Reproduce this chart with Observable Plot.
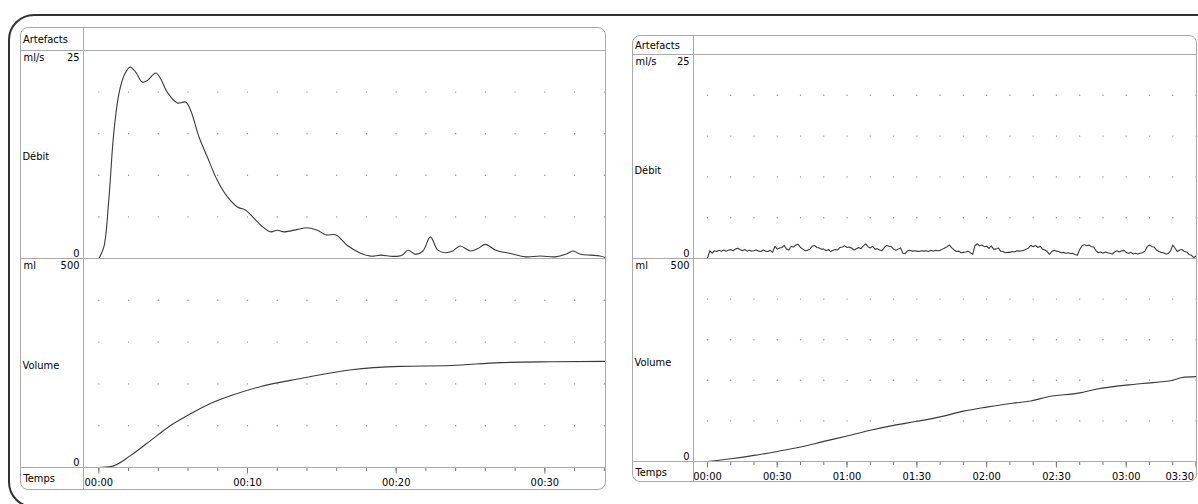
<!DOCTYPE html>
<html><head><meta charset="utf-8">
<script src="https://cdn.jsdelivr.net/npm/d3@7"></script>
<script src="https://cdn.jsdelivr.net/npm/@observablehq/plot@0.6"></script>
<style>
body{margin:0;background:#fff;width:1198px;height:504px;overflow:hidden;position:relative;font-family:"Liberation Sans Narrow","DejaVu Sans Condensed",sans-serif;}
.outer{position:absolute;left:8px;top:14px;width:1230px;height:494px;border:2px solid #333;border-radius:26px;box-sizing:border-box}
.panel{position:absolute}
.bord{position:absolute;left:0;top:0;right:0;bottom:0;border:1px solid #aaa;border-radius:8px;box-sizing:border-box;pointer-events:none}
.hl{position:absolute;left:0;right:0;height:1px;background:#aaa}
.vl{position:absolute;top:0;bottom:0;width:1px;background:#aaa}
.lbl{position:absolute;font-size:11px;line-height:12px;color:#000}
.panel svg{position:absolute;left:0;overflow:visible}
</style></head><body>
<div class="outer"></div>
<div id="left" class="panel"></div>
<div id="right" class="panel"></div>
<script>
const FONT = '"Liberation Sans Narrow","DejaVu Sans Condensed",sans-serif';
// ---------- data ----------
const rowLabels = ["Artefacts", "Débit", "Volume", "Temps"];
const unitDebit = "ml/s", unitVolume = "ml";
const debitRange = [0, 25], volumeRange = [0, 500];
const gridYDebit = [5, 10, 15, 20];
const gridYVolume = [100, 200, 300, 400];

// left recording (seconds)
const leftMajorTicks = [0, 10, 20, 30];
const leftMajorLabels = ["00:00", "00:10", "00:20", "00:30"];
const leftMinorTicks = [0, 2, 4, 6, 8, 10, 12, 14, 16, 18, 20, 22, 24, 26, 28, 30, 32, 34];
const leftDebitT = [0, 0.34, 0.67, 1.0, 1.35, 1.7, 2.1, 2.48, 2.93, 3.27, 3.83, 4.16, 4.6, 5.28, 5.84, 6.18, 6.74, 7.3, 7.97, 8.65, 9.32, 9.88, 10.9, 11.56, 12.0, 12.46, 13.36, 14.03, 14.7, 15.26, 15.93, 16.7, 17.6, 18.3, 18.96, 19.8, 20.4, 20.8, 21.3, 21.8, 22.3, 22.8, 23.3, 23.8, 24.3, 25.0, 25.5, 26.0, 26.7, 27.7, 28.7, 29.7, 30.7, 31.4, 31.9, 32.4, 33.1, 33.7, 34.1];
const leftDebitV = [0, 1.4, 7, 15, 19.8, 22, 23, 22.4, 21.2, 21.4, 22.3, 21.6, 20.0, 18.7, 18.8, 17.8, 14.6, 12.2, 9.4, 7.4, 6.2, 5.8, 4.0, 3.2, 3.4, 3.2, 3.5, 3.7, 3.4, 2.85, 2.85, 1.6, 0.64, 0.28, 0.4, 0.25, 0.4, 1.0, 0.5, 0.9, 2.6, 1.0, 0.7, 0.9, 1.5, 0.9, 1.2, 1.7, 1.0, 0.6, 0.2, 0.3, 0.2, 0.5, 0.9, 0.5, 0.4, 0.3, 0.1];
const leftVolT = [0, 0.8, 2.15, 3.5, 4.8, 6.2, 7.5, 8.9, 10.9, 13.6, 17.0, 20.3, 23.7, 27.0, 30.5, 34.1];
const leftVolV = [0, 2, 29, 65, 100, 129, 153, 172, 194, 213, 234, 242, 244, 251, 253, 254];

// right recording (seconds)
const rightMajorTicks = [0, 30, 60, 90, 120, 150, 180, 210];
const rightMajorLabels = ["00:00", "00:30", "01:00", "01:30", "02:00", "02:30", "03:00", "03:30"];
const rightMinorTicks = [0,10,20,30,40,50,60,70,80,90,100,110,120,130,140,150,160,170,180,190,200,210];
const rightDebitV = [
0, 0.95, 0.65, 0.95, 0.85, 1.0, 0.9, 1.05, 0.9, 1.0,
1.1, 0.95, 1.15, 1.25, 1.1, 0.95, 1.1, 0.9, 1.0, 0.9,
0.95, 1.05, 0.9, 0.85, 1.05, 0.9, 0.85, 1.0, 0.75, 1.5,
1.15, 1.3, 1.35, 1.6, 1.15, 1.05, 1.5, 1.4, 1.65, 1.75,
1.35, 1.15, 0.95, 1.0, 1.15, 1.5, 1.6, 1.35, 1.3, 1.15,
1.15, 0.95, 1.1, 0.85, 1.0, 1.1, 1.05, 1.35, 1.4, 1.55,
1.35, 1.4, 1.25, 1.05, 1.2, 1.35, 1.2, 1.55, 1.8, 1.45,
1.3, 1.5, 1.15, 1.2, 1.05, 0.95, 1.35, 1.6, 1.5, 1.45,
1.15, 1.0, 1.15, 1.3, 0.65, 0.6, 0.95, 1.0, 0.9, 0.95,
0.9, 0.85, 0.95, 0.9, 0.95, 0.85, 1.0, 0.9, 1.0, 0.95,
1.0, 1.15, 1.3, 1.45, 1.65, 1.3, 1.05, 0.85, 0.9, 0.7,
0.75, 0.8, 0.9, 0.7, 0.5, 1.6, 1.8, 1.55, 1.65, 1.45,
1.5, 1.25, 1.55, 1.15, 1.15, 1.3, 0.9, 0.85, 0.7, 0.75,
0.75, 0.85, 0.8, 0.95, 0.9, 0.95, 1.0, 1.15, 1.3, 1.6,
1.45, 1.6, 1.35, 1.5, 1.15, 1.05, 0.85, 0.5, 0.85, 1.0,
0.9, 0.85, 0.7, 0.75, 0.65, 0.7, 0.6, 0.65, 0.5, 0.4,
1.1, 1.55, 1.7, 1.55, 1.65, 1.45, 1.4, 0.95, 0.7, 0.8,
0.65, 0.8, 0.7, 0.65, 0.55, 0.8, 0.95, 0.8, 0.95, 1.0,
0.75, 0.65, 0.75, 0.55, 0.65, 0.55, 0.65, 0.7, 0.9, 1.45,
1.65, 1.45, 1.4, 1.05, 0.85, 0.75, 0.7, 0.55, 0.6, 0.9,
1.65, 1.25, 0.85, 1.05, 1.1, 0.85, 0.8, 0.5, 0.4, 0.1, 0.3];
const rightDebitT = rightDebitV.map((_, i) => i); // one sample per second
const rightVolT = [0, 10, 20, 30, 40, 50, 60, 70, 80, 90, 100, 110, 120, 131, 139, 146, 160, 167, 187, 200, 204, 210];
const rightVolV = [0, 6.6, 15, 24.8, 35.5, 49.5, 62.7, 77, 89, 99, 110, 124, 134, 143.5, 149, 159, 169, 178, 192, 200, 207, 209];

// ---------- layout ----------
const panels = [
  {id: "left", left: 20, top: 27, width: 586, height: 463, labelW: 63, rows: [23, 208, 209, 23], debitLabelDy: 2,
   xDomain: [-1.03, 34.08], major: leftMajorTicks, majorLabels: leftMajorLabels, minor: leftMinorTicks,
   debit: leftDebitT.map((t, i) => ({t, v: leftDebitV[i]})), debitCurve: "catmull-rom",
   volume: leftVolT.map((t, i) => ({t, v: leftVolV[i]})), lastEnd: false},
  {id: "right", left: 632, top: 35, width: 565, height: 447, labelW: 61, rows: [19, 204, 203, 21], debitLabelDy: 14,
   xDomain: [-6.0, 210.2], major: rightMajorTicks, majorLabels: rightMajorLabels, minor: rightMinorTicks,
   debit: rightDebitT.map((t, i) => ({t, v: rightDebitV[i]})), debitCurve: "linear",
   volume: rightVolT.map((t, i) => ({t, v: rightVolV[i]})), lastEnd: true}
];

const style = {fontFamily: FONT, fontSize: "11px", color: "#000", background: "transparent", overflow: "visible"};

function signalPlot(p, h, data, yDom, gridY, unit, name, curve, nameDy) {
  const ml = p.labelW;
  const grid = d3.cross(p.minor, gridY).map(([x, y]) => ({x, y}));
  return Plot.plot({
    width: p.width, height: h, marginLeft: ml, marginRight: 1, marginTop: 0, marginBottom: 0,
    x: {domain: p.xDomain, axis: null}, y: {domain: yDom, axis: null},
    style,
    marks: [
      Plot.dot(grid, {x: "x", y: "y", r: 0.7, fill: "#8a8a8a", stroke: null}),
      Plot.line(data, {x: "t", y: "v", stroke: "#3a3a3a", strokeWidth: 1.1, curve}),
      Plot.text([unit], {frameAnchor: "top-left", dx: -(ml - 3), dy: 3, textAnchor: "start", lineAnchor: "top"}),
      Plot.text([name], {frameAnchor: "left", dx: -(ml - 2), dy: nameDy, textAnchor: "start"}),
      Plot.text([yDom[1]], {y: d => d, frameAnchor: "left", dx: -4, dy: 3, textAnchor: "end", lineAnchor: "top"}),
      Plot.text([yDom[0]], {y: d => d, frameAnchor: "left", dx: -4, dy: -2, textAnchor: "end", lineAnchor: "bottom"})
    ]
  });
}

function timePlot(p, h) {
  const ml = p.labelW;
  const fmt = d => p.majorLabels[p.major.indexOf(d)];
  const normal = p.lastEnd ? p.major.slice(0, -1) : p.major;
  const marks = [
    Plot.axisX(p.minor, {anchor: "bottom", tickSize: 4, tickFormat: () => "", stroke: "#777", label: null}),
    Plot.axisX(normal, {anchor: "bottom", tickSize: 6.5, tickPadding: 4.5, tickFormat: fmt, stroke: "#777", fill: "#000", label: null}),
    Plot.text(["Temps"], {frameAnchor: "left", dx: -(ml - 3), dy: 11, textAnchor: "start"})
  ];
  if (p.lastEnd) {
    const last = p.major.slice(-1);
    marks.push(Plot.axisX(last, {anchor: "bottom", tickSize: 6.5, tickFormat: () => "", stroke: "#777", label: null}));
    marks.push(Plot.text(last, {x: d => d, text: fmt, frameAnchor: "top", dx: -2, dy: 11, textAnchor: "end", lineAnchor: "top"}));
  }
  return Plot.plot({
    width: p.width, height: h, marginLeft: ml, marginRight: 1, marginTop: 0, marginBottom: h,
    x: {domain: p.xDomain, label: null}, style, marks
  });
}

for (const p of panels) {
  const el = document.getElementById(p.id);
  Object.assign(el.style, {left: p.left + "px", top: p.top + "px", width: p.width + "px", height: p.height + "px"});
  const [hA, hD, hV, hT] = p.rows;
  const yD = hA, yV = hA + hD, yT = hA + hD + hV;
  const a = document.createElement("div");
  a.className = "lbl"; a.textContent = rowLabels[0];
  Object.assign(a.style, {left: "3px", top: (hA / 2 - 5) + "px"});
  el.appendChild(a);
  const sD = signalPlot(p, hD, p.debit, debitRange, gridYDebit, unitDebit, rowLabels[1], p.debitCurve, p.debitLabelDy);
  sD.style.top = yD + "px"; el.appendChild(sD);
  const sV = signalPlot(p, hV, p.volume, volumeRange, gridYVolume, unitVolume, rowLabels[2], "monotone-x", 2);
  sV.style.top = yV + "px"; el.appendChild(sV);
  const sT = timePlot(p, hT);
  sT.style.top = yT + "px"; el.appendChild(sT);
  for (const y of [yD, yV, yT]) {
    const l = document.createElement("div"); l.className = "hl"; l.style.top = y + "px"; el.appendChild(l);
  }
  const v = document.createElement("div"); v.className = "vl"; v.style.left = p.labelW + "px"; el.appendChild(v);
  const b = document.createElement("div"); b.className = "bord"; el.appendChild(b);
}
</script></body></html>
